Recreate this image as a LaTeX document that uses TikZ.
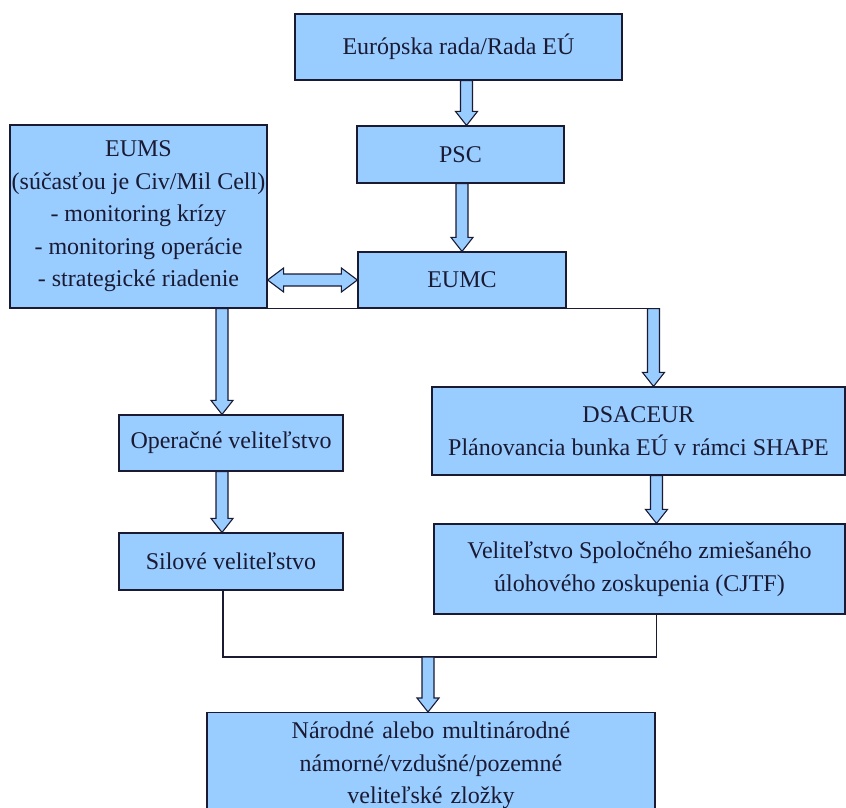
\documentclass[tikz,border=0pt]{standalone}
\usepackage{fontspec}
\setmainfont{Liberation Serif}
\usepackage{tikz}
\usetikzlibrary{calc}
\definecolor{boxblue}{HTML}{99CCFF}
\definecolor{ink}{HTML}{1A1A33}

% hollow block arrow going down, x taken from the end point
\newcommand{\downblk}[2]{%
  \draw[blk] let \p1=#1, \p2=#2 in
    (\x2-6pt,\y1) -- (\x2-6pt,\y2+14pt) -- (\x2-11pt,\y2+14pt) -- (\x2,\y2)
    -- (\x2+11pt,\y2+14pt) -- (\x2+6pt,\y2+14pt) -- (\x2+6pt,\y1) -- cycle;}

\begin{document}
\begin{tikzpicture}[x=1pt, y=-1pt,
    box/.style={draw=ink, line width=1.2pt, fill=boxblue, inner sep=0pt, align=center,
      text=ink, font=\fontsize{24}{32.5}\selectfont},
    blk/.style={draw=ink, line width=1.1pt, fill=boxblue, line join=miter},
    link/.style={draw=ink, line width=1.2pt}]
\useasboundingbox (0,0) rectangle (846,807);

\node[box, minimum width=327pt, minimum height=66pt] (rada) at (458.5,47) {Európska rada/Rada EÚ};
\node[box, minimum width=207pt, minimum height=57pt] (psc) at (460.5,154.5) {PSC};
\node[box, minimum width=208pt, minimum height=56pt] (eumc) at (462,280) {EUMC};
\node[box, minimum width=257pt, minimum height=183pt] (eums) at (138.5,216.5)
  {EUMS\\(súčasťou je Civ/Mil Cell)\\- monitoring krízy\\- monitoring operácie\\- strategické riadenie};
\node[box, minimum width=224pt, minimum height=56pt] (opv) at (231,443) {Operačné veliteľstvo};
\node[box, minimum width=224pt, minimum height=57pt] (sil) at (231,561.5) {Silové veliteľstvo};
\node[box, minimum width=413pt, minimum height=88pt] (dsa) at (638.5,431)
  {DSACEUR\\Plánovancia bunka EÚ v rámci SHAPE};
\node[box, minimum width=411pt, minimum height=90pt] (cjtf) at (639.5,569)
  {Veliteľstvo Spoločného zmiešaného\\úlohového zoskupenia (CJTF)};
\node[box, anchor=north, text width=448pt, minimum height=106pt, inner ysep=7pt] (nat) at (431,712)
  {Národné alebo multinárodné\\námorné/vzdušné/pozemné\\veliteľské zložky};

% lines
\coordinate (dx) at ([xshift=15pt]dsa.north);
\coordinate (sx) at ([xshift=-8pt]sil.south);
\coordinate (cx) at ([xshift=17pt]cjtf.south);
\coordinate (join) at (431,657);
\draw[link] (eums.south east) -- (eumc.south west);
\draw[link] (eumc.south east) -- (dx |- eumc.south);
\draw[link] (sx) -- (sx |- join) -- (cx |- join) -- (cx);

% arrows
\downblk{(rada.south)}{([xshift=6pt]psc.north)}
\downblk{(psc.south)}{(eumc.north)}
\downblk{(eums.south)}{([xshift=-9pt]opv.north)}
\downblk{(opv.south)}{([xshift=-9pt]sil.north)}
\downblk{(eumc.south)}{(dx)}
\downblk{(dsa.south)}{([xshift=17pt]cjtf.north)}
\downblk{(join)}{([xshift=-3pt]nat.north)}
\draw[blk] let \p1=(eums.east |- eumc.west), \p2=(eumc.west) in
  (\x1,\y1) -- (\x1+16pt,\y1+12pt) -- (\x1+16pt,\y1+6pt) -- (\x2-16pt,\y1+6pt)
  -- (\x2-16pt,\y1+12pt) -- (\x2,\y1) -- (\x2-16pt,\y1-12pt) -- (\x2-16pt,\y1-6pt)
  -- (\x1+16pt,\y1-6pt) -- (\x1+16pt,\y1-12pt) -- cycle;
\end{tikzpicture}
\end{document}
